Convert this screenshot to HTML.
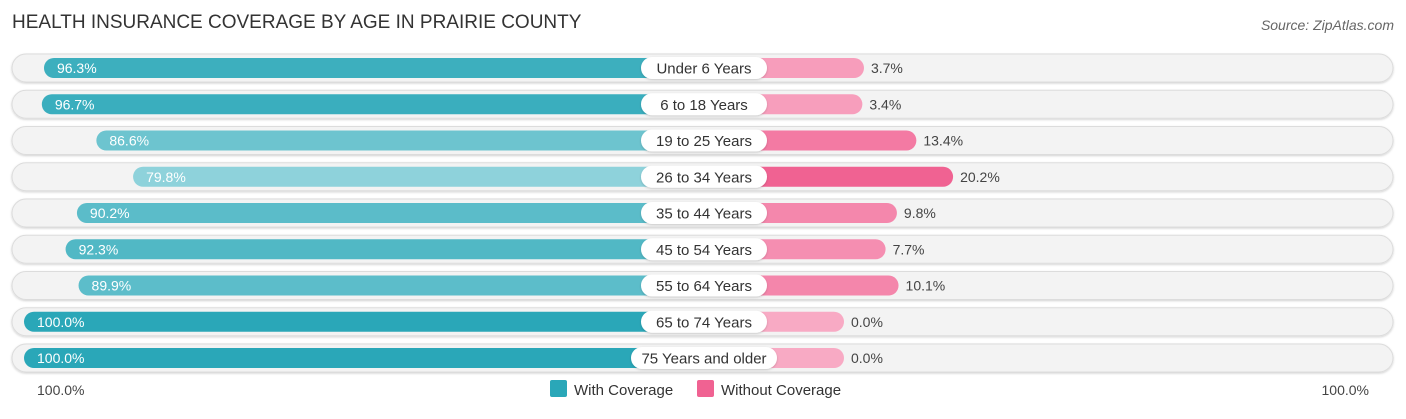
<!DOCTYPE html>
<html><head><meta charset="utf-8"><style>
body{margin:0;background:#fff;font-family:"Liberation Sans",sans-serif;}
svg text{font-family:"Liberation Sans",sans-serif;}
</style></head><body>
<svg width="1406" height="414" xmlns="http://www.w3.org/2000/svg">
<defs>
<filter id="sh" x="-5%" y="-30%" width="110%" height="160%"><feDropShadow dx="0" dy="1" stdDeviation="1" flood-color="#000" flood-opacity="0.18"/></filter>
</defs>
<text x="12" y="28" font-size="19" fill="#333">HEALTH INSURANCE COVERAGE BY AGE IN PRAIRIE COUNTY</text>
<text x="1394" y="30" font-size="14" fill="#666" font-style="italic" text-anchor="end">Source: ZipAtlas.com</text>
<g id="rows"></g>
<text x="37" y="395" font-size="14" fill="#444">100.0%</text>
<text x="1369" y="395" font-size="14" fill="#444" text-anchor="end">100.0%</text>
<rect x="550" y="380" width="17" height="17" rx="2" fill="#2aa7b8"/>
<text x="574" y="395" font-size="15" fill="#333">With Coverage</text>
<rect x="697" y="380" width="17" height="17" rx="2" fill="#f06292"/>
<text x="721" y="395" font-size="15" fill="#333">Without Coverage</text>
</svg>
<script>
const categories=["Under 6 Years","6 to 18 Years","19 to 25 Years","26 to 34 Years","35 to 44 Years","45 to 54 Years","55 to 64 Years","65 to 74 Years","75 Years and older"];
const withCoverage=[96.3,96.7,86.6,79.8,90.2,92.3,89.9,100.0,100.0];
const withoutCoverage=[3.7,3.4,13.4,20.2,9.8,7.7,10.1,0.0,0.0];
const NS="http://www.w3.org/2000/svg";
const g=document.getElementById('rows');
const CX=704,OFF=140,SC=5.4,Y0=68,DY=36.25;
function yPos(i){return Y0+i*DY;}
function xWith(v){return CX-OFF-v*SC;}
function xWithout(v){return CX+OFF+v*SC;}
function mix(a,b,t){return 'rgb('+a.map((c,k)=>Math.round(c+(b[k]-c)*t)).join(',')+')';}
function mk(tag,attrs){const e=document.createElementNS(NS,tag);for(const k in attrs)e.setAttribute(k,attrs[k]);g.appendChild(e);return e;}
categories.forEach((c,i)=>{
  const y=yPos(i);
  const bg=mk('rect',{x:12,y:y-14,width:1381,height:28,rx:14,fill:'#f3f3f3',stroke:'#dcdcdc','stroke-width':1,filter:'url(#sh)'});
  
  
  const tw=Math.min(1,Math.max(0,(100-withCoverage[i])/20));
  const x1=xWith(withCoverage[i]);
  const b1=mk('rect',{x:x1,y:y-10,width:CX-x1,height:20,rx:10,fill:mix([42,167,184],[142,210,219],tw)});
  
  
  const tp=Math.min(1,withoutCoverage[i]/20);
  const x2=xWithout(withoutCoverage[i]);
  const b2=mk('rect',{x:CX,y:y-10,width:x2-CX,height:20,rx:10,fill:mix([248,170,196],[240,98,146],tp)});
  
  
  const t1=mk('text',{x:x1+13,y:y+5,'font-size':14,fill:'#fff'});
  t1.textContent=withCoverage[i].toFixed(1)+'%';
  
  
  const t2=mk('text',{x:x2+7,y:y+5,'font-size':14,fill:'#444'});
  t2.textContent=withoutCoverage[i].toFixed(1)+'%';
  
  
  const lw=c.length>14?146:126;
  const lb=mk('rect',{x:CX-lw/2,y:y-11,width:lw,height:22,rx:11,fill:'#fff',filter:'url(#sh)'});
  
  
  const lt=mk('text',{x:CX,y:y+5.5,'font-size':15,fill:'#333','text-anchor':'middle'});
  lt.textContent=c;
  
  
});
</script>
</body></html>
